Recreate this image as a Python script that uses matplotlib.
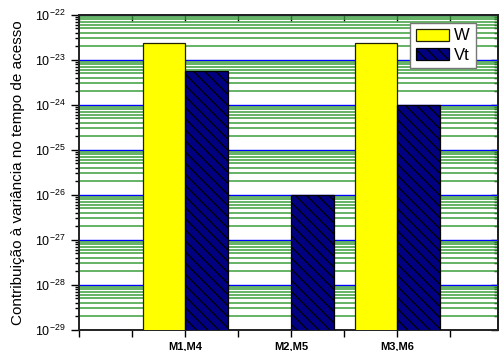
"""
Log-scale bar chart: contribution to access-time variance (W vs Vt).

Use: `python plot.py` -> writes out.png
"""

import matplotlib

matplotlib.use("Agg")
import matplotlib.pyplot as plt
import numpy as np
from matplotlib.ticker import LogLocator, NullFormatter

categories = ["M1,M4", "M2,M5", "M3,M6"]
w_values = [2.4e-23, np.nan, 2.4e-23]
vt_values = [5.7e-24, 1.0e-26, 1.0e-24]
decades = list(range(-29, -21))

plt.rcParams["font.family"] = ["Liberation Sans", "DejaVu Sans"]
plt.rcParams["mathtext.default"] = "regular"
plt.rcParams["hatch.linewidth"] = 0.9


def main() -> None:
    fig = plt.figure(figsize=(5.0, 3.51), dpi=100)
    ax = fig.add_axes([0.158, 0.060, 0.838, 0.898])

    x = np.arange(1, len(categories) + 1)
    width = 0.4
    ax.bar(x - width / 2, w_values, width, bottom=1e-30, color="#FFFF00",
           edgecolor="#222200", linewidth=0.9, label="W", zorder=3)
    ax.bar(x + width / 2, vt_values, width, bottom=1e-30, color="#000080",
           edgecolor="black", linewidth=0.9, hatch="\\\\\\", label="Vt", zorder=3)

    ax.set_yscale("log")
    ax.set_ylim(1e-29, 1e-22)
    ax.set_xlim(0, 3.95)

    # decade grid in blue, sub-decade grid in green
    ticks = [10.0 ** d for d in decades]
    ax.set_yticks(ticks, [f"$10^{{{d}}}$" for d in decades])
    ax.yaxis.set_minor_locator(LogLocator(base=10, subs=np.arange(2, 10), numticks=20))
    ax.yaxis.set_minor_formatter(NullFormatter())
    ax.grid(True, axis="y", which="major", color="#0000FF", linewidth=1.0, zorder=1)
    ax.grid(True, axis="y", which="minor", color="#3A9E3A", linewidth=1.1, zorder=1)
    ax.set_axisbelow(True)

    ax.set_xticks(x)
    ax.set_xticklabels(categories, fontsize=8, fontweight="bold")
    ax.set_xticks(np.arange(0, 4.0, 0.5), minor=True)
    ax.tick_params(axis="x", which="both", direction="out", length=5, width=1)
    ax.tick_params(axis="y", which="major", direction="out", length=6, width=1,
                   labelsize=9)
    ax.tick_params(axis="y", which="minor", direction="out", length=3, width=1)

    # mirrored ticks pointing inward on top and right
    top = ax.secondary_xaxis("top")
    top.set_xticks(np.arange(0, 4.0, 0.5))
    top.tick_params(direction="in", length=4, width=1, labeltop=False)
    right = ax.secondary_yaxis("right")
    right.set_yscale("log")
    right.set_yticks(ticks)
    right.tick_params(which="major", direction="in", length=5, width=1, labelright=False)
    right.tick_params(which="minor", direction="in", length=3, width=1)
    right.yaxis.set_minor_formatter(NullFormatter())

    for sp in list(ax.spines.values()) + [top.spines["top"], right.spines["right"]]:
        sp.set_linewidth(1.4)
        sp.set_color("#222222")

    ax.set_ylabel("Contribuição à variância no tempo de acesso", fontsize=11,
                  labelpad=7)

    leg = ax.legend(loc="upper right", bbox_to_anchor=(0.947, 0.975), fontsize=12,
                    borderaxespad=0, handlelength=2.0, handleheight=0.72,
                    handletextpad=0.3, labelspacing=0.25, borderpad=0.35,
                    fancybox=False, edgecolor="#777777", framealpha=1)
    leg.get_frame().set_linewidth(1.0)

    fig.savefig("out.png", dpi=100)
    plt.close(fig)


if __name__ == "__main__":
    main()
